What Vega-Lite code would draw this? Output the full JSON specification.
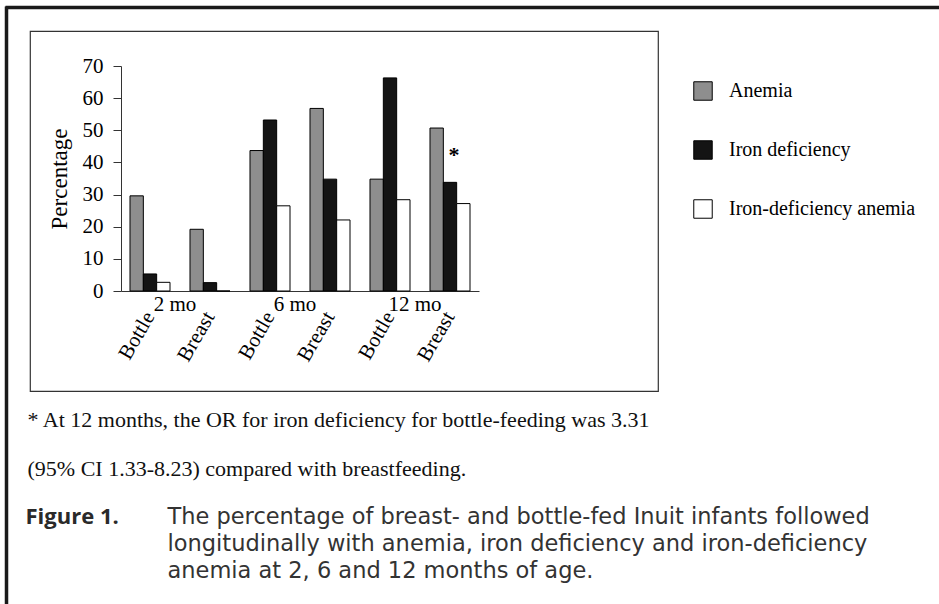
{
  "$schema": "https://vega.github.io/schema/vega-lite/v6.json",
  "autosize": "none",
  "padding": {"left": 30, "top": 31, "right": 281, "bottom": 213},
  "width": 628,
  "height": 360,
  "background": "white",
  "config": {"view": {"stroke": "#333", "strokeWidth": 1.2}},
  "layer": [
    {
      "layer": [
        {
          "data": {"values": [
            {"cat": "2 mo Bottle", "measure": "Anemia", "value": 29.6, "note": ""},
            {"cat": "2 mo Bottle", "measure": "Iron deficiency", "value": 5.3, "note": ""},
            {"cat": "2 mo Bottle", "measure": "Iron-deficiency anemia", "value": 2.7, "note": ""},
            {"cat": "2 mo Breast", "measure": "Anemia", "value": 19.2, "note": ""},
            {"cat": "2 mo Breast", "measure": "Iron deficiency", "value": 2.6, "note": ""},
            {"cat": "2 mo Breast", "measure": "Iron-deficiency anemia", "value": 0, "note": ""},
            {"cat": "6 mo Bottle", "measure": "Anemia", "value": 43.7, "note": ""},
            {"cat": "6 mo Bottle", "measure": "Iron deficiency", "value": 53.2, "note": ""},
            {"cat": "6 mo Bottle", "measure": "Iron-deficiency anemia", "value": 26.5, "note": ""},
            {"cat": "6 mo Breast", "measure": "Anemia", "value": 56.8, "note": ""},
            {"cat": "6 mo Breast", "measure": "Iron deficiency", "value": 34.8, "note": ""},
            {"cat": "6 mo Breast", "measure": "Iron-deficiency anemia", "value": 22.1, "note": ""},
            {"cat": "12 mo Bottle", "measure": "Anemia", "value": 34.8, "note": ""},
            {"cat": "12 mo Bottle", "measure": "Iron deficiency", "value": 66.3, "note": ""},
            {"cat": "12 mo Bottle", "measure": "Iron-deficiency anemia", "value": 28.4, "note": ""},
            {"cat": "12 mo Breast", "measure": "Anemia", "value": 50.7, "note": ""},
            {"cat": "12 mo Breast", "measure": "Iron deficiency", "value": 33.8, "note": "*"},
            {"cat": "12 mo Breast", "measure": "Iron-deficiency anemia", "value": 27.2, "note": ""}
          ]},
          "layer": [
            {
              "mark": {"type": "bar", "stroke": "black", "strokeWidth": 1},
              "encoding": {
                "x": {
                  "field": "cat", "type": "nominal",
                  "scale": {"type": "band", "domain": ["2 mo Bottle", "2 mo Breast", "6 mo Bottle", "6 mo Breast", "12 mo Bottle", "12 mo Breast"], "range": [91, 449], "paddingInner": 0.3333, "paddingOuter": 0.15},
                  "axis": {
                    "orient": "bottom", "offset": -100, "ticks": false, "grid": false,
                    "labelAngle": -60, "labelAlign": "right", "labelBaseline": "middle", "labelPadding": 22,
                    "labelFont": "Liberation Serif", "labelFontSize": 21, "labelColor": "black",
                    "domainColor": "#333", "labelExpr": "split(datum.value, ' ')[2]",
                    "title": ["* At 12 months, the OR for iron deficiency for bottle-feeding was 3.31", "(95% CI 1.33-8.23) compared with breastfeeding."],
                    "titleX": -3, "titleY": 135, "titleAlign": "left", "titleBaseline": "alphabetic", "titleAngle": 0,
                    "titleFont": "Liberation Serif", "titleFontSize": 22, "titleFontWeight": "normal", "titleColor": "#111", "titleLineHeight": 49
                  }
                },
                "xOffset": {"field": "measure", "type": "nominal", "sort": ["Anemia", "Iron deficiency", "Iron-deficiency anemia"], "scale": {"paddingInner": 0, "paddingOuter": 0}},
                "y": {
                  "field": "value", "type": "quantitative",
                  "scale": {"domain": [0, 70], "range": [260, 35], "nice": false},
                  "axis": {
                    "orient": "left", "offset": -91, "values": [0, 10, 20, 30, 40, 50, 60, 70],
                    "title": "Percentage", "titleFont": "Liberation Serif", "titleFontSize": 23, "titleFontWeight": "normal", "titleColor": "black", "titlePadding": 11,
                    "labelFont": "Liberation Serif", "labelFontSize": 21, "labelColor": "black", "labelPadding": 10,
                    "tickSize": 8, "tickColor": "#333", "domainColor": "#333", "grid": false
                  }
                },
                "color": {
                  "field": "measure", "type": "nominal",
                  "scale": {"domain": ["Anemia", "Iron deficiency", "Iron-deficiency anemia"], "range": ["#8e8e8e", "#141414", "#ffffff"]},
                  "legend": {
                    "orient": "none", "legendX": 663, "legendY": 50, "title": null, "padding": 0,
                    "symbolType": "square", "symbolSize": 340, "symbolStrokeColor": "black", "symbolStrokeWidth": 1,
                    "labelFont": "Liberation Serif", "labelFontSize": 20, "labelColor": "black", "labelLimit": 400,
                    "rowPadding": 35, "labelOffset": 16
                  }
                }
              }
            },
            {
              "transform": [{"filter": "datum.note == '*'"}],
              "mark": {"type": "text", "dy": -27, "dx": 4, "baseline": "middle", "font": "Liberation Serif", "fontSize": 22, "fontWeight": "bold"},
              "encoding": {
                "x": {"field": "cat", "type": "nominal"},
                "xOffset": {"field": "measure", "type": "nominal"},
                "y": {"field": "value", "type": "quantitative"},
                "text": {"field": "note"}
              }
            }
          ]
        },
        {
          "data": {"values": [
            {"cat": "2 mo Bottle", "age": "2 mo"},
            {"cat": "6 mo Bottle", "age": "6 mo"},
            {"cat": "12 mo Bottle", "age": "12 mo"}
          ]},
          "mark": {"type": "text", "dx": 25, "dy": 14, "baseline": "middle", "align": "center", "font": "Liberation Serif", "fontSize": 21, "color": "black"},
          "encoding": {
            "x": {"field": "cat", "type": "nominal"},
            "y": {"datum": 0, "type": "quantitative"},
            "text": {"field": "age"}
          }
        }
      ]
    },
    {
      "data": {"values": [{}]},
      "mark": {"type": "point", "opacity": 0},
      "encoding": {
        "x": {
          "datum": 0, "type": "quantitative",
          "scale": {"domain": [0, 1], "range": [-25, 920], "nice": false, "zero": false},
          "axis": {
            "orient": "top", "offset": 24, "domainWidth": 3.5, "domainColor": "#1a1a1a", "ticks": false, "labels": false, "grid": false,
            "title": ["The percentage of breast- and bottle-fed Inuit infants followed", "longitudinally with anemia, iron deficiency and iron-deficiency", "anemia at 2, 6 and 12 months of age."],
            "titleX": 137, "titleY": 516, "titleAlign": "left", "titleBaseline": "alphabetic", "titleAngle": 0,
            "titleFont": "DejaVu Sans", "titleFontSize": 22.5, "titleFontWeight": "normal", "titleColor": "#333333", "titleLineHeight": 27
          }
        },
        "y": {
          "datum": 0, "type": "quantitative",
          "scale": {"domain": [0, 1], "range": [-25, 600], "nice": false, "zero": false},
          "axis": {
            "orient": "left", "offset": 24, "domainWidth": 3.5, "domainColor": "#1a1a1a", "ticks": false, "labels": false, "grid": false,
            "title": "Figure 1.",
            "titleX": 19, "titleY": 492, "titleAlign": "left", "titleBaseline": "alphabetic", "titleAngle": 0,
            "titleFont": "Open Sans", "titleFontSize": 22, "titleFontWeight": "bold", "titleColor": "#2a2a2a"
          }
        }
      }
    }
  ],
  "resolve": {
    "scale": {"x": "independent", "y": "independent"},
    "axis": {"x": "independent", "y": "independent"}
  }
}
